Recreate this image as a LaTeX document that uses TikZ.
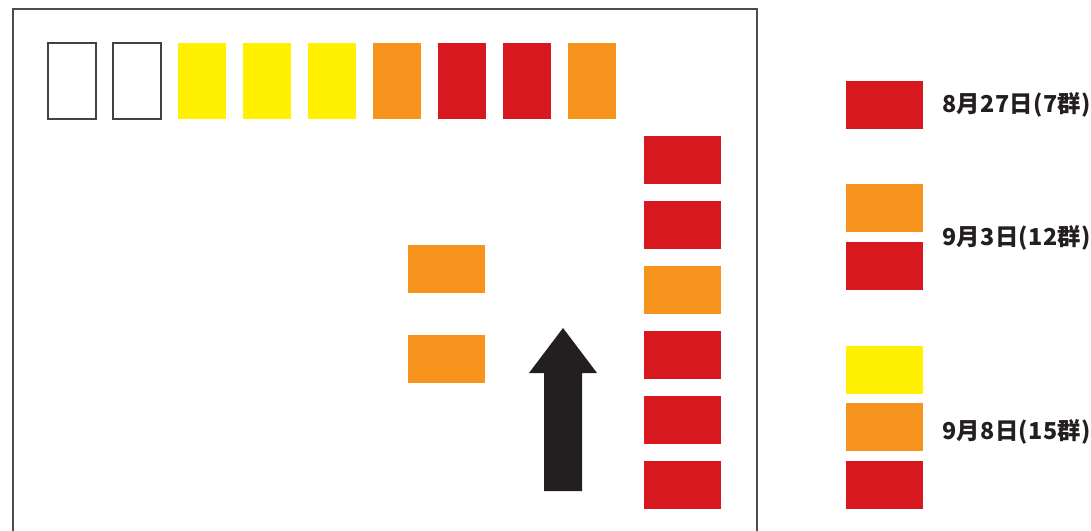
\documentclass[tikz,border=0pt]{standalone}
\usepackage{fontspec}
\newfontfamily\jpfont[LetterSpace=1.5]{Noto Sans CJK JP}
\definecolor{jred}{HTML}{D7181F}
\definecolor{jorange}{HTML}{F7941D}
\definecolor{jyellow}{HTML}{FFF100}
\definecolor{ink}{HTML}{231F20}
\tikzset{
  seat/.style={rectangle, inner sep=0pt, minimum width=36pt, minimum height=57pt},
  lane/.style={rectangle, inner sep=0pt, minimum width=57.75pt, minimum height=36pt},
  datelabel/.style={anchor=west, inner sep=0pt, text=ink, font=\jpfont\bfseries\fontsize{17.5}{17.5}\selectfont},
}
\begin{document}
\begin{tikzpicture}[x=0.75pt, y=-0.75pt]
    \useasboundingbox (0, 0) rectangle (1091, 531);

    % 外枠
    \draw[ink!80, line width=1.2] (13, 540) -- (13, 9) -- (757, 9) -- (757, 540);

    % 上段の列
    \foreach \c [count=\i from 0] in {white, white, jyellow, jyellow, jyellow, jorange, jred, jred, jorange} {
        \node[seat, fill=\c] (top\i) at (72 + 65*\i, 81) {};
    }
    \draw[ink!85, line width=1.2] (top0.south west) rectangle (top0.north east);
    \draw[ink!85, line width=1.2] (top1.south west) rectangle (top1.north east);

    % 右側の列
    \foreach \c [count=\j from 0] in {jred, jred, jorange, jred, jred, jred} {
        \node[lane, fill=\c] (side\j) at (682.5, 160 + 65*\j) {};
    }

    % 中央
    \node[lane, fill=jorange] (mid0) at (446.5, 269) {};
    \node[lane, fill=jorange] (mid1) at (446.5, 359) {};

    % 矢印
    \fill[ink] (544, 491) -- (544, 373) -- (529, 373) -- (563, 328)
        -- (597, 373) -- (582, 373) -- (582, 491) -- cycle;

    % 凡例
    \node[lane, fill=jred] (key0) at (884.5, 105) {};
    \node[lane, fill=jorange] (key1) at (884.5, 208) {};
    \node[lane, fill=jred] (key2) at (884.5, 266) {};
    \node[lane, fill=jyellow] (key3) at (884.5, 370) {};
    \node[lane, fill=jorange] (key4) at (884.5, 427) {};
    \node[lane, fill=jred] (key5) at (884.5, 485) {};

    \node[datelabel] (date0) at (942, 105) {8月27日(7群)};
    \node[datelabel] (date1) at (942, 238) {9月3日(12群)};
    \node[datelabel] (date2) at (942, 432) {9月8日(15群)};
\end{tikzpicture}
\end{document}
